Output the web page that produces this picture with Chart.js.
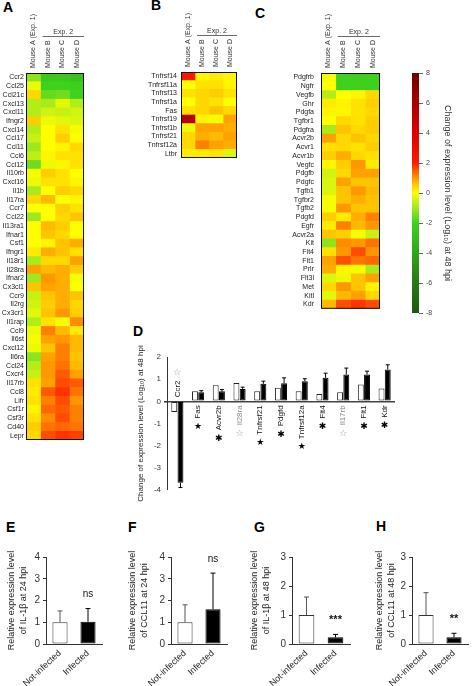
<!DOCTYPE html>
<html><head><meta charset="utf-8">
<script src="https://cdn.jsdelivr.net/npm/chart.js@4/dist/chart.umd.min.js"></script>
<style>
html,body{margin:0;padding:0;background:#fff;width:474px;height:686px;overflow:hidden;position:relative;}
canvas{position:absolute;}
.lab{position:absolute;font:bold 14px "Liberation Sans",Arial,sans-serif;color:#000;line-height:15px;}
</style></head><body>
<div class="lab" style="left:3px;top:0px">A</div>
<div class="lab" style="left:151px;top:-2px">B</div>
<div class="lab" style="left:255px;top:6px">C</div>
<div class="lab" style="left:133px;top:324px">D</div>
<div class="lab" style="left:6px;top:520px">E</div>
<div class="lab" style="left:128px;top:520px">F</div>
<div class="lab" style="left:254px;top:520px">G</div>
<div class="lab" style="left:376px;top:519px">H</div>

<canvas id="hA" width="100" height="450" style="left:0;top:0"></canvas>
<canvas id="hB" width="115" height="170" style="left:130px;top:0"></canvas>
<canvas id="hC" width="135" height="320" style="left:255px;top:0"></canvas>
<canvas id="cbar" width="79" height="270" style="left:395px;top:60px"></canvas>
<canvas id="pD" width="374" height="200" style="left:100px;top:320px"></canvas>
<canvas id="pE" width="120" height="146" style="left:0;top:540px"></canvas>
<canvas id="pF" width="120" height="146" style="left:120px;top:540px"></canvas>
<canvas id="pG" width="120" height="146" style="left:240px;top:540px"></canvas>
<canvas id="pH" width="114" height="146" style="left:360px;top:540px"></canvas>

<script>
// ---------------- DATA ----------------
const mouseLabels = ['Mouse A (Exp. 1)', 'Mouse B', 'Mouse C', 'Mouse D'];

const genesA = ['Ccr2','Ccl25','Ccl21c','Cxcl13','Cxcl11','Ifngr2','Cxcl14','Ccl17','Ccl11','Ccl6','Ccl12','Il10rb','Cxcl16','Il1b','Il17ra','Ccr7','Ccl22','Il13ra1','Ifnar1','Csf1','Ifngr1','Il18r1','Il28ra','Ifnar2','Cx3cl1','Ccr9','Il2rg','Cx3cr1','Il1rap','Ccl9','Il6st','Cxcl12','Il6ra','Ccl24','Cxcr4','Il17rb','Ccl8','Lifr','Csf1r','Csf3r','Cd40','Lepr'];
const aMouseA = [-1.2,-0.2,0.4,-0.8,-0.8,0.5,-0.8,-0.6,-1.0,-0.7,-1.5,-0.1,-0.2,-0.9,0.4,0,-1.0,0,0,0,0.2,-0.9,0.9,-1.0,0.6,-0.6,-0.5,-0.3,-0.8,-0.2,-0.1,-0.2,-1.2,-0.8,-0.6,0.3,0.2,0.3,0.1,0.3,0.5,0.4];
const aMouseB = [-2.5,-2.0,-1.6,-0.9,-0.5,-0.2,0,0,0,0.1,-0.2,0.5,0.3,0,0.7,0,0,0.7,0.6,0.1,0.8,0.4,0.7,1.0,0.9,0.6,0.5,0.6,0.3,1.2,0.9,0.6,0.9,1.0,1.0,0.9,1.5,1.2,1.4,1.1,1.3,1.6];
const aMouseC = [-2.5,-2.0,-1.5,-0.3,-0.6,-0.3,0.3,0.5,0.1,0.3,0.1,0.3,0.3,0.5,0,0.5,0.4,0.5,0.4,0.6,0.6,0.4,0.8,0.8,0.8,0.8,0.8,1.0,-0.1,0.7,1.0,1.2,1.2,1.3,1.5,1.6,1.8,1.6,1.5,1.6,1.4,1.8];
const aMouseD = [-2.7,-2.2,-2.0,-0.8,-0.5,-0.4,-0.1,0,0.4,0.3,0.3,0,0.1,0.4,0.1,0.3,0.6,0,0,0.8,0.3,0.9,0.5,-0.1,0,0.6,0.4,0.5,1.1,0.2,0.7,0.7,0.6,0.7,0.9,1.5,1.3,1.0,1.2,1.2,1.3,1.7];

const genesB = ['Tnfrsf14','Tnfrsf11a','Tnfrsf13','Tnfrsf1a','Fas','Tnfrsf19','Tnfrsf1b','Tnfrsf21','Tnfrsf12a','Ltbr'];
const bMouseA = [2.2,0,0.3,0,0.3,5.5,-0.2,0.4,0.4,0.2];
const bMouseB = [0.1,0.3,0.4,0.4,0.4,0.1,0.9,0.8,1.2,0.2];
const bMouseC = [0.2,0.3,0.5,0.3,0.6,-0.1,0.9,0.7,0.9,0.3];
const bMouseD = [0.1,0.1,0.3,0,0.4,0.9,0.8,0.9,0.8,-0.4];

const genesC = ['Pdgfrb','Ngfr','Vegfb','Ghr','Pdgfa','Tgfbr1','Pdgfra','Acvr2b','Acvr1','Acvr1b','Vegfc','Pdgfb','Pdgfc','Tgfb1','Tgfbr2','Tgfb2','Pdgfd','Egfr','Acvr2a','Kit','Flt4','Flt1','Prlr','Flt3l','Met','Kitl','Kdr'];
const cMouseA = [-0.1,0,-0.8,0.2,0.1,0,-0.9,0.9,0.3,0.5,0.1,-0.5,-0.4,-0.4,-0.1,-0.1,0.5,0.2,0.6,-1.2,0.3,0.9,0.8,-0.4,0.4,-0.3,0.7];
const cMouseB = [-2.0,-2.0,0,0.1,0.1,0.4,0.6,0.4,0.4,0.8,0.5,0.4,0.9,0.6,0.6,1.0,0.2,1.2,0.5,1.1,1.0,1.6,0.1,-0.2,1.0,0.7,1.6];
const cMouseC = [-2.1,-2.0,0.1,0.3,0.3,0.3,0.4,0.6,0.3,0.4,1.0,0.9,0.6,1.0,0.8,0.6,0.8,0.7,-0.1,1.0,1.6,1.3,-0.1,0.6,0.6,0.9,1.8];
const cMouseD = [-2.0,-2.1,0.4,0.5,0.4,0.5,0.5,0.4,0.5,0.3,0.2,0.9,0.6,0.7,0.6,0.6,1.2,1.0,-0.6,1.3,1.0,1.4,-0.9,0.9,0.1,0.4,1.6];

const colorbarRange = [-8, 8];
const colorbarTitle = 'Change of expression level (Log\u2081\u2080) at 48 hpi';

const dGenes = ['Ccr2','Fas','Acvr2b','Il28ra','Tnfrsf21','Pdgfd','Tnfrsf12a','Flt4','Il17rb','Flt1','Kdr'];
const dExp1 = [-0.48,0.45,0.73,0.83,0.45,0.61,0.45,0.33,0.41,0.76,0.58];
const dExp2 = [-3.67,0.41,0.45,0.56,0.79,0.82,0.91,1.06,1.21,1.21,1.44];
const dExp2Err = [0.22,0.07,0.08,0.08,0.12,0.24,0.11,0.21,0.29,0.15,0.21];
const dSig = ['\u2606','\u2605','\u2731','\u2606','\u2605','\u2731','\u2605','\u2731','\u2606','\u2731','\u2731'];
const dTitle = 'Change of expression level (Log\u2081\u2080) at 48 hpi';

const groups = ['Not-infected', 'Infected'];
const eMean = [1.0, 1.02], eErr = [0.52, 0.61], eSig = 'ns';
const fMean = [1.0, 1.60], fErr = [0.80, 1.66], fSig = 'ns';
const gMean = [1.0, 0.23], gErr = [0.62, 0.10], gSig = '***';
const hMean = [1.0, 0.23], hErr = [0.77, 0.14], hSig = '**';

// ---------------- STYLE ----------------
const FONT = '"Liberation Sans", Arial, sans-serif';
Chart.defaults.font.family = FONT;
Chart.defaults.color = '#222';
const STOPS = [[-8,[30,88,18]],[-6,[40,120,22]],[-4,[48,165,26]],[-2,[62,210,30]],[-1,[160,232,30]],[0,[255,255,0]],[0.6,[255,196,0]],[1.2,[255,128,0]],[2,[255,26,0]],[4,[222,0,0]],[6,[170,0,0]],[8,[110,0,0]]];
function colorFor(v){
  if (v <= STOPS[0][0]) return 'rgb(' + STOPS[0][1].join(',') + ')';
  for (let i = 1; i < STOPS.length; i++) {
    if (v <= STOPS[i][0]) {
      const [v0,c0] = STOPS[i-1], [v1,c1] = STOPS[i];
      const t = (v - v0) / (v1 - v0);
      return 'rgb(' + c0.map((c,k)=>Math.round(c + (c1[k]-c)*t)).join(',') + ')';
    }
  }
  return 'rgb(' + STOPS[STOPS.length-1][1].join(',') + ')';
}

// ---------------- HEATMAPS ----------------
const heatDecor = {
  id: 'heatDecor',
  afterDraw(chart) {
    const {ctx, chartArea: a, scales: {x}} = chart;
    ctx.save();
    ctx.strokeStyle = '#111'; ctx.lineWidth = 1;
    ctx.strokeRect(a.left + 0.5, a.top + 0.5, a.right - a.left - 1, a.bottom - a.top - 1);
    ctx.fillStyle = '#333';
    ctx.font = '7px ' + FONT;
    ctx.textBaseline = 'middle';
    mouseLabels.forEach((t, j) => {
      const cx = x.getPixelForValue(j + 0.5);
      ctx.save(); ctx.translate(cx, a.top - 5); ctx.rotate(-Math.PI / 2);
      ctx.textAlign = 'left'; ctx.fillText(t, 0, 0); ctx.restore();
    });
    const xb = x.getPixelForValue(1), xd = x.getPixelForValue(4);
    const yl = Math.round(a.top - 37) + 0.5;
    ctx.strokeStyle = '#444'; ctx.lineWidth = 0.8;
    ctx.beginPath(); ctx.moveTo(xb + 2, yl); ctx.lineTo(xd, yl); ctx.stroke();
    ctx.textAlign = 'center'; ctx.textBaseline = 'bottom';
    ctx.fillText('Exp. 2', (xb + xd) / 2 + 1, yl - 1);
    ctx.restore();
  }
};

function heatmap(id, genes, cols, pad, axisW, tickPad) {
  const datasets = cols.map((vals, j) => ({
    label: mouseLabels[j],
    data: vals.map(() => 1),
    backgroundColor: vals.map(colorFor),
    borderWidth: 0,
    barPercentage: 1,
    categoryPercentage: 1
  }));
  new Chart(document.getElementById(id), {
    type: 'bar',
    data: { labels: genes, datasets },
    options: {
      indexAxis: 'y', responsive: false, animation: false, devicePixelRatio: 1,
      layout: { padding: pad },
      plugins: { legend: { display: false }, tooltip: { enabled: false } },
      scales: {
        x: { stacked: true, display: false, min: 0, max: 4 },
        y: { stacked: true, grid: { display: false, drawTicks: false }, border: { display: false },
             ticks: { autoSkip: false, font: { size: 7 }, color: '#222', padding: tickPad },
             afterFit: s => { s.width = axisW; } }
      }
    },
    plugins: [heatDecor]
  });
}

heatmap('hA', genesA, [aMouseA, aMouseB, aMouseC, aMouseD], {left:0,right:16,top:73,bottom:10}, 26, 2);
heatmap('hB', genesB, [bMouseA, bMouseB, bMouseC, bMouseD], {left:0,right:8,top:72,bottom:12}, 51, 4);
heatmap('hC', genesC, [cMouseA, cMouseB, cMouseC, cMouseD], {left:0,right:10,top:73,bottom:8}, 66, 7);

// ---------------- COLOR BAR ----------------
new Chart(document.getElementById('cbar'), {
  type: 'bar',
  data: { labels: [''], datasets: [{
    data: [colorbarRange],
    backgroundColor: (c) => {
      const chart = c.chart, a = chart.chartArea;
      if (!a) return '#ff0';
      const g = chart.ctx.createLinearGradient(0, a.bottom, 0, a.top);
      STOPS.forEach(([v]) => g.addColorStop((v - colorbarRange[0]) / (colorbarRange[1] - colorbarRange[0]), colorFor(v)));
      return g;
    },
    borderWidth: 0, barPercentage: 1, categoryPercentage: 1
  }]},
  options: {
    responsive: false, animation: false, devicePixelRatio: 1,
    layout: { padding: { left: 17, right: 20, top: 13, bottom: 17 } },
    plugins: { legend: { display: false }, tooltip: { enabled: false } },
    scales: {
      x: { display: false },
      y: { position: 'right', min: colorbarRange[0], max: colorbarRange[1],
           ticks: { stepSize: 2, font: { size: 7 }, color: '#444', padding: 3 },
           grid: { drawOnChartArea: false, tickLength: 4, tickColor: '#666' },
           border: { display: false },
           title: { display: true, text: colorbarTitle, font: { size: 9 }, color: '#333', padding: { top: 1, bottom: 0 } },
           afterFit: s => { s.width = 35; } }
    }
  }
});

// ---------------- PANEL D ----------------
const dDecor = {
  id: 'dDecor',
  afterDatasetsDraw(chart) {
    const { ctx, scales: { x, y } } = chart;
    const y0 = y.getPixelForValue(0);
    const meta = chart.getDatasetMeta(1);
    ctx.save();
    ctx.strokeStyle = '#000'; ctx.lineWidth = 1;
    meta.data.forEach((bar, i) => {
      const v = dExp2[i], e = dExp2Err[i], s = v < 0 ? -1 : 1;
      const yA = y.getPixelForValue(v), yB = y.getPixelForValue(v + s * e);
      ctx.beginPath();
      ctx.moveTo(bar.x, yA); ctx.lineTo(bar.x, yB);
      ctx.moveTo(bar.x - 2, yB); ctx.lineTo(bar.x + 2, yB);
      ctx.stroke();
    });
    dGenes.forEach((g, i) => {
      const cx = x.getPixelForValue(i);
      const up = dExp2[i] < 0;
      ctx.font = '8px ' + FONT;
      const w = ctx.measureText(g).width;
      const hollow = dSig[i] === '\u2606';
      ctx.save();
      ctx.translate(cx, up ? y0 - 4 : y0 + 4);
      ctx.rotate(-Math.PI / 2);
      ctx.textBaseline = 'middle';
      ctx.textAlign = up ? 'left' : 'right';
      ctx.fillStyle = (hollow && !up) ? '#888' : '#111';
      ctx.fillText(g, 0, 0);
      ctx.restore();
      const sy = up ? y0 - 4 - w - 8 : y0 + 4 + w + 8;
      ctx.font = '9px "DejaVu Sans", sans-serif';
      ctx.textAlign = 'center'; ctx.textBaseline = 'middle';
      ctx.fillStyle = hollow ? '#999' : '#000';
      ctx.fillText(dSig[i], cx, sy);
    });
    ctx.restore();
  }
};

new Chart(document.getElementById('pD'), {
  type: 'bar',
  data: { labels: dGenes, datasets: [
    { label: 'Exp. 1', data: dExp1, backgroundColor: '#fff', borderColor: '#222', borderWidth: 1, borderSkipped: false, categoryPercentage: 0.6, barPercentage: 0.95 },
    { label: 'Exp. 2', data: dExp2, backgroundColor: '#000', borderColor: '#000', borderWidth: 1, borderSkipped: false, categoryPercentage: 0.6, barPercentage: 0.95 }
  ]},
  options: {
    responsive: false, animation: false, devicePixelRatio: 1,
    layout: { padding: { left: 32, right: 79, top: 37, bottom: 30 } },
    plugins: { legend: { display: false }, tooltip: { enabled: false } },
    scales: {
      x: { display: false },
      y: { min: -4, max: 2,
           ticks: { stepSize: 1, font: { size: 8 }, color: '#333', padding: 3 },
           grid: { color: c => (c.tick && c.tick.value === 0) ? '#444' : 'rgba(0,0,0,0)', lineWidth: c => (c.tick && c.tick.value === 0) ? 1.5 : 0, tickColor: '#333', tickLength: 3 },
           border: { color: '#333' },
           title: { display: true, text: dTitle, font: { size: 8 }, color: '#222', padding: { top: 4, bottom: 0 } },
           afterFit: s => { s.width = 35; } }
    }
  },
  plugins: [dDecor]
});

// ---------------- PANELS E-H ----------------
const errPlugin = {
  id: 'errs',
  afterDatasetsDraw(chart, args, opts) {
    const { ctx, scales: { y } } = chart;
    const meta = chart.getDatasetMeta(0);
    ctx.save();
    ctx.lineWidth = 1;
    let topY = Infinity, topX = 0;
    meta.data.forEach((bar, i) => {
      const v = opts.mean[i], e = opts.err[i];
      const yA = y.getPixelForValue(v), yB = y.getPixelForValue(v + e);
      ctx.strokeStyle = i === 0 ? '#555' : '#000';
      ctx.beginPath();
      ctx.moveTo(bar.x, yA); ctx.lineTo(bar.x, yB);
      ctx.moveTo(bar.x - 2.5, yB); ctx.lineTo(bar.x + 2.5, yB);
      ctx.stroke();
      if (i === 1) { topY = yB; topX = bar.x; }
    });
    ctx.fillStyle = '#111';
    ctx.font = (opts.sig === 'ns' ? '10px ' : 'bold 11px ') + FONT;
    ctx.textAlign = 'center'; ctx.textBaseline = 'middle';
    ctx.fillText(opts.sig, topX, topY - 14);
    ctx.restore();
  }
};

function small(id, mean, err, sig, ymax, title, pad, axisW) {
  new Chart(document.getElementById(id), {
    type: 'bar',
    data: { labels: groups, datasets: [{
      data: mean, backgroundColor: ['#fff', '#000'], borderColor: ['#333', '#000'],
      borderWidth: 1, borderSkipped: false, categoryPercentage: 0.54, barPercentage: 1
    }]},
    options: {
      responsive: false, animation: false, devicePixelRatio: 1,
      layout: { padding: pad },
      plugins: { legend: { display: false }, tooltip: { enabled: false }, errs: { mean, err, sig } },
      scales: {
        x: { grid: { display: false, drawTicks: false }, border: { color: '#333' },
             ticks: { minRotation: 43, maxRotation: 43, font: { size: 9 }, color: '#222', padding: 4, autoSkip: false },
             afterFit: s => { s.height = 42; } },
        y: { min: 0, max: ymax,
             ticks: { stepSize: 1, font: { size: 10 }, color: '#333', padding: 3 },
             grid: { drawOnChartArea: false, tickLength: 3, tickColor: '#333' },
             border: { color: '#333' },
             title: { display: true, text: title, font: { size: 9, lineHeight: 1.3 }, color: '#222', padding: { top: 4, bottom: 0 } },
             afterFit: s => { s.width = axisW; } }
      }
    },
    plugins: [errPlugin]
  });
}

small('pE', eMean, eErr, eSig, 4, ['Relative expression level', 'of IL-1\u03b2 at 24 hpi'], {left:2,right:18,top:17,bottom:0}, 44);
small('pF', fMean, fErr, fSig, 4, ['Relative expression level', 'of CCL11 at 24 hpi'], {left:3,right:13,top:17,bottom:0}, 48);
small('pG', gMean, gErr, gSig, 3, ['Relative expression level', 'of IL-1\u03b2 at 48 hpi'], {left:5,right:10,top:17,bottom:0}, 47);
small('pH', hMean, hErr, hSig, 3, ['Relative expression level', 'of CCL11 at 48 hpi'], {left:10,right:6,top:17,bottom:0}, 42);
</script>
</body></html>
